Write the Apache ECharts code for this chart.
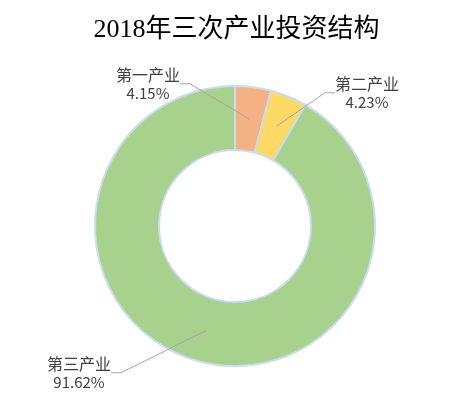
<!DOCTYPE html>
<html>
<head>
<meta charset="utf-8">
<script src="https://cdn.jsdelivr.net/npm/echarts@6/dist/echarts.min.js"></script>
<style>html,body{margin:0;padding:0;background:#fff}#c{width:473px;height:404px}</style>
</head>
<body>
<div id="c"></div>
<script>
var titleText = '2018年三次产业投资结构';
var categories = ['第一产业', '第二产业', '第三产业'];
var values = [4.15, 4.23, 91.62];
var colors = ['#f4b183', '#ffd966', '#a9d18e'];

var labelPos = [
  {x: 148, y: 84},
  {x: 367, y: 93},
  {x: 79, y: 373}
];

var chart = echarts.init(document.getElementById('c'));
var pieData = categories.map(function (c, i) {
  return {name: c, value: values[i], itemStyle: {color: colors[i]}};
});
var labelData = categories.map(function (c, i) {
  return {name: c, value: values[i]};
});
chart.setOption({
  backgroundColor: '#fff',
  title: {
    text: titleText,
    left: 'center',
    top: 12,
    textStyle: {fontFamily: 'Liberation Serif, Noto Sans CJK SC', fontSize: 26, fontWeight: 'normal', color: '#000'}
  },
  series: [{
    type: 'pie',
    center: [235, 226],
    radius: [76, 140],
    startAngle: 90,
    clockwise: true,
    data: pieData,
    itemStyle: {borderColor: '#c9dcf0', borderWidth: 2},
    label: {show: false},
    labelLine: {show: false},
    emphasis: {disabled: true},
    silent: true,
    animation: false
  }, {
    type: 'pie',
    center: [235, 226],
    radius: [0, 108],
    startAngle: 90,
    clockwise: true,
    avoidLabelOverlap: false,
    z: 5,
    data: labelData,
    itemStyle: {color: 'rgba(0,0,0,0)', borderWidth: 0},
    label: {
      show: true,
      position: 'outside',
      formatter: function (p) { return '{n|' + p.name + '}\n{v|' + p.value.toFixed(2) + '%}'; },
      fontFamily: 'Noto Sans CJK SC',
      color: '#404040',
      rich: {
        n: {fontFamily: 'Noto Sans CJK SC', fontSize: 16, lineHeight: 19, color: '#404040'},
        v: {fontFamily: 'Noto Sans CJK SC', fontSize: 15, lineHeight: 19, color: '#404040'}
      }
    },
    labelLine: {show: true, length: 10, length2: 10, lineStyle: {color: '#a6a6a6', width: 1}},
    labelLayout: function (params) {
      var p = labelPos[params.dataIndex];
      return {x: p.x, y: p.y, align: 'center', verticalAlign: 'middle'};
    },
    emphasis: {disabled: true},
    silent: true,
    animation: false
  }]
});
</script>
</body>
</html>
